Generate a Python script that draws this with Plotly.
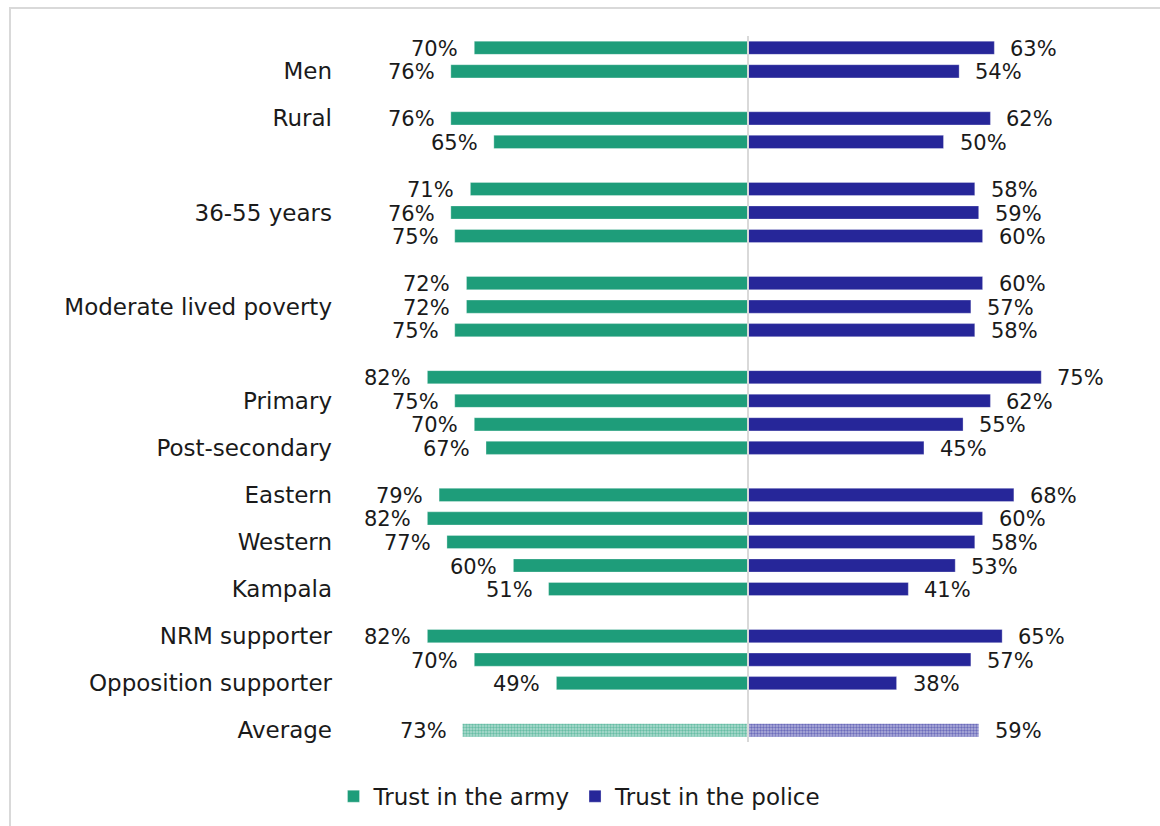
import plotly.graph_objects as go

# Row labels (top to bottom); None = blank spacer row, "" = row without a visible label
row_labels = ["", "Men", None, "Rural", "", None, "", "36-55 years", "", None,
              "", "Moderate lived poverty", "", None, "", "Primary", "", "Post-secondary", None,
              "Eastern", "", "Western", "", "Kampala", None,
              "NRM supporter", "", "Opposition supporter", None, "Average"]
army = [70, 76, None, 76, 65, None, 71, 76, 75, None, 72, 72, 75, None,
        82, 75, 70, 67, None, 79, 82, 77, 60, 51, None, 82, 70, 49, None, 73]
police = [63, 54, None, 62, 50, None, 58, 59, 60, None, 60, 57, 58, None,
          75, 62, 55, 45, None, 68, 60, 58, 53, 41, None, 65, 57, 38, None, 59]
series_names = ["Trust in the army", "Trust in the police"]

GREEN = "rgb(30,157,122)"
NAVY = "rgb(38,38,153)"
GREEN_T = "rgba(30,157,122,0.35)"
NAVY_T = "rgba(38,38,153,0.35)"
FONT = "DejaVu Sans"
TXT = "#1a1a1a"
FS = 23
VFS = 21

avg_idx = len(row_labels) - 1
pos = list(range(len(row_labels)))
main_idx = [i for i in pos if army[i] is not None and i != avg_idx]

fig = go.Figure()
fig.add_trace(go.Bar(
    y=[pos[i] for i in main_idx], x=[-army[i] for i in main_idx], orientation="h",
    name=series_names[0], marker=dict(color=GREEN, line=dict(width=0.6, color="rgba(255,255,255,0.5)")),
    width=0.56, hoverinfo="skip"))
fig.add_trace(go.Bar(
    y=[pos[i] for i in main_idx], x=[police[i] for i in main_idx], orientation="h",
    name=series_names[1], marker=dict(color=NAVY, line=dict(width=0.6, color="rgba(255,255,255,0.5)")),
    width=0.56, hoverinfo="skip"))
fig.add_trace(go.Bar(
    y=[avg_idx], x=[-army[avg_idx]], orientation="h", showlegend=False,
    marker=dict(color=GREEN_T, line=dict(width=0),
                pattern=dict(shape=".", fgcolor=GREEN, bgcolor=GREEN_T, size=3, solidity=0.5, fillmode="overlay")),
    width=0.56, hoverinfo="skip"))
fig.add_trace(go.Bar(
    y=[avg_idx], x=[police[avg_idx]], orientation="h", showlegend=False,
    marker=dict(color=NAVY_T, line=dict(width=0),
                pattern=dict(shape=".", fgcolor=NAVY, bgcolor=NAVY_T, size=3, solidity=0.5, fillmode="overlay")),
    width=0.56, hoverinfo="skip"))

annotations = []
for i in pos:
    if army[i] is None:
        continue
    annotations.append(dict(x=-army[i], y=i, xref="x", yref="y", text=f"{army[i]}%",
                            showarrow=False, xanchor="right", yanchor="middle", xshift=-14, yshift=-1,
                            font=dict(family=FONT, size=VFS, color=TXT)))
    annotations.append(dict(x=police[i], y=i, xref="x", yref="y", text=f"{police[i]}%",
                            showarrow=False, xanchor="left", yanchor="middle", xshift=14, yshift=-1,
                            font=dict(family=FONT, size=VFS, color=TXT)))

tickvals = [i for i in pos if row_labels[i]]
ticktext = [row_labels[i] for i in tickvals]

fig.update_layout(
    width=1160, height=826, barmode="overlay",
    margin=dict(l=357, r=21, t=36, b=84),
    paper_bgcolor="white", plot_bgcolor="white",
    font=dict(family=FONT, size=FS, color=TXT),
    xaxis=dict(range=[-100, 100], showticklabels=False, showgrid=False, zeroline=False,
               showline=False, fixedrange=True),
    yaxis=dict(range=[len(row_labels) - 0.5, -0.5], tickvals=tickvals, ticktext=ticktext,
               showgrid=False, zeroline=False, showline=False, ticks="",
               ticklabelstandoff=24, tickfont=dict(family=FONT, size=FS, color=TXT)),
    legend=dict(orientation="h", xref="container", x=0.5, xanchor="center",
                yref="container", y=0.036, yanchor="middle",
                font=dict(family=FONT, size=FS, color=TXT), itemwidth=30,
                traceorder="normal"),
    annotations=annotations,
    shapes=[
        dict(type="line", xref="x", yref="paper", x0=0, x1=0, y0=0, y1=1,
             line=dict(color="#d9d9d9", width=2), layer="above"),
        dict(type="rect", xref="paper", yref="paper",
             x0=(10 - 357) / 782, x1=1.2, y0=-0.3, y1=(742 - 8) / 706,
             line=dict(color="#d9d9d9", width=2), layer="below"),
    ],
)

fig.write_html("out.html")
